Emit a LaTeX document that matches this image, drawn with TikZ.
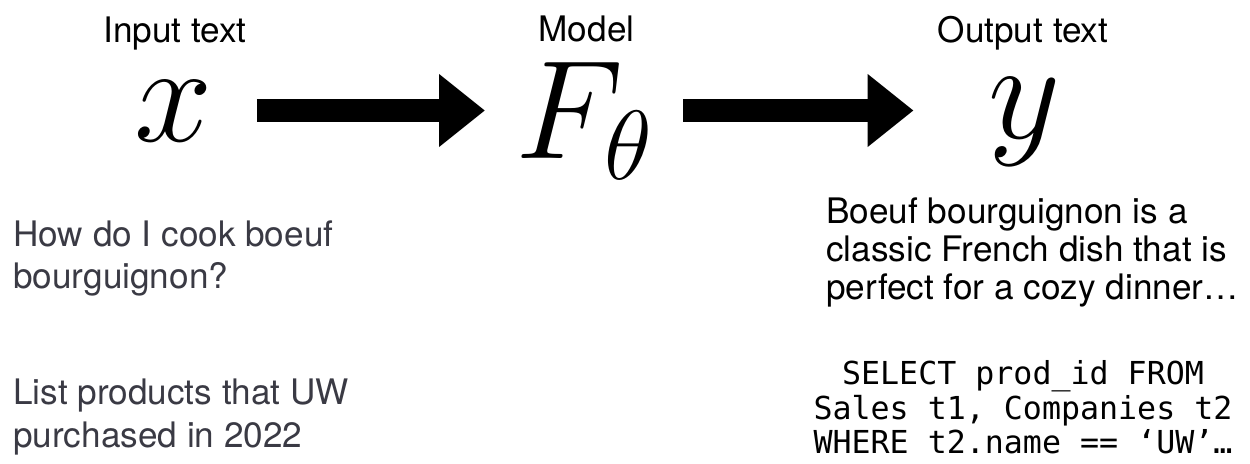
\RequirePackage{fix-cm}
\documentclass[tikz,border=0pt]{standalone}
\usepackage{fontspec}
\setmainfont{TeX Gyre Heros}
\setmonofont{DejaVu Sans Mono}
\usepackage{tikz}
\usetikzlibrary{positioning,arrows.meta}
\definecolor{qgray}{HTML}{3A3A44}

\begin{document}
\begin{tikzpicture}[
  lbl/.style={anchor=base, inner sep=0pt, font=\fontsize{20}{24}\selectfont},
  sym/.style={inner sep=0pt, font=\fontsize{80}{80}\selectfont},
  prompt/.style={anchor=north west, inner sep=0pt, align=left, text=qgray, font=\fontsize{20}{24}\selectfont},
  reply/.style={anchor=north west, inner sep=0pt, align=left, font=\fontsize{20}{21.5}\selectfont},
  code/.style={anchor=north, inner sep=0pt, align=center, font=\ttfamily\fontsize{18}{19.8}\selectfont},
  bigarrow/.style={-{Triangle[length=9.2mm, width=14mm]}, line width=4.6mm},
]
\useasboundingbox (0,0) rectangle (25,-9.26);
% titles
\node[lbl] (inlbl) at (3.5,-0.84) {Input text};
\node[lbl] (modlbl) at (11.73,-0.82) {Model};
\node[lbl] (outlbl) at (20.46,-0.84) {Output text};
% x -> F -> y
\node[sym, anchor=base] (xin) at (3.48,-2.83) {$x$};
\node[sym, anchor=base west] (ftheta) at (10.30,-3.16) {$F_\theta$};
\node[sym, anchor=base] (yout) at (20.5,-2.77) {$y$};
\coordinate (mid) at (0,-2.21);
\draw[bigarrow, shorten <=8.7mm, shorten >=6mm] (xin.east |- mid) -- (ftheta.west |- mid);
\draw[bigarrow, shorten <=6mm, shorten >=15mm] (ftheta.east |- mid) -- (yout.west |- mid);
% examples
\node[prompt] (q1) at (0.26,-4.40) {How do I cook boeuf\\bourguignon?};
\node[prompt] (q2) at (0.26,-7.58) {List products that UW\\purchased in 2022};
\node[reply] (a1) at (16.52,-3.95) {Boeuf bourguignon is a\\classic French dish that is\\perfect for a cozy dinner…};
\node[code] (a2) at (20.46,-7.20) {SELECT prod\_id FROM\\Sales t1, Companies t2\\WHERE t2.name == ‘UW’…};
\end{tikzpicture}
\end{document}
